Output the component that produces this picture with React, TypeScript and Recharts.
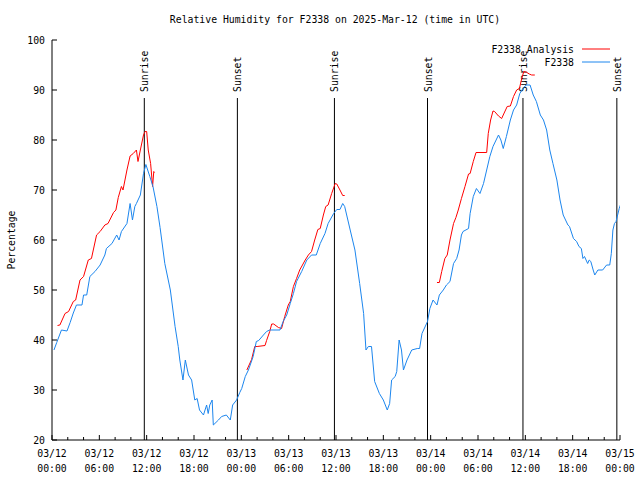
import { Line, LineChart, ReferenceLine, XAxis, YAxis } from "recharts";

// hours since 03/12 00:00 UTC
const stationHours = [
  0.25, 0.6, 1.2, 1.9, 2.3, 2.7, 3.1, 3.8, 4.0, 4.4, 4.8, 5.45, 6.1, 6.7, 6.9, 7.6, 8.2, 8.5, 8.8, 9.5,
  9.9, 10.2, 10.5, 10.7, 11.2, 11.6, 11.9, 12.4, 12.8, 13.3, 13.7, 14.3, 15, 15.6, 16, 16.2, 16.6, 16.9,
  17.3, 17.7, 18.1, 18.4, 18.7, 19.2, 19.6, 19.8, 20, 20.3, 20.45, 21.1, 21.5, 22.1, 22.6, 22.9, 23.4,
  23.8, 24.05, 24.5, 24.9, 25.5, 25.9, 26.2, 26.8, 27.2, 27.6, 28.9, 29.3, 29.75, 30.2, 30.6, 31.0,
  31.65, 32.3, 32.9, 33.5, 34, 34.6, 35, 35.7, 36.1, 36.5, 36.85, 37.1, 37.8, 38.4, 39.0, 39.5, 39.8,
  40.1, 40.5, 40.9, 41.5, 42, 42.5, 42.8, 43.05, 43.5, 43.7, 44.0, 44.3, 44.55, 45, 45.6, 46.3, 46.6,
  46.9, 47.6, 47.9, 48.3, 48.8, 49.1, 49.6, 50.0, 50.45, 50.9, 51.3, 51.6, 51.9, 52.1, 52.8, 53.0, 53.4,
  53.8, 54.25, 54.7, 55.1, 55.5, 55.9, 56.6, 56.9, 57.2, 57.6, 58.1, 58.5, 58.9, 59.3, 59.7, 60.1, 60.6,
  61, 61.4, 61.9, 62.3, 62.7, 63.1, 63.5, 64, 64.4, 64.8, 65.4, 65.6, 66.1, 66.5, 66.8, 67.1, 67.3, 67.5,
  67.9, 68.1, 68.3, 68.6, 68.8, 69.2, 69.8, 70.3, 70.7, 70.9, 71.1, 71.3, 71.5, 71.9, 72.05,
];
const stationRh = [
  38, 39.5, 42, 41.8, 43.5, 45.4, 47, 47, 49, 49, 52.7, 53.7, 55, 57, 58.3, 59.3, 61, 60, 61.7, 63.3,
  67.3, 64, 66.7, 67.3, 69, 73.3, 75.1, 72.7, 70.7, 66.7, 62.5, 55.3, 50, 42.7, 38.7, 36, 32, 36,
  33, 32, 28, 28.3, 26, 25, 27, 25.3, 27, 28, 23, 24, 24.7, 25, 24, 27, 28,
  29.5, 30.3, 32.7, 34, 36.7, 39.7, 39.9, 41, 41.7, 42, 42, 43.7, 45, 47.3, 49.3, 51.7,
  53.7, 56, 57, 57, 59.3, 61.3, 63.3, 65.3, 66.1, 66.1, 67.3, 66.7, 62, 58, 51.3, 45.3, 38,
  38.7, 38.7, 31.7, 29.3, 28, 26, 27.3, 32, 32.7, 33.7, 40, 38, 34, 36, 38, 38.3, 38.3,
  41.3, 43.7, 46.3, 48, 47, 49, 50, 51, 51.7, 55.3, 56.3, 58, 61, 61.7, 62.3, 65.3, 68.7,
  70.3, 69.3, 71.3, 74, 76.7, 78.7, 81, 80, 78.3, 80.7, 84, 86, 87, 89.3, 90.3, 91, 91,
  89, 87.7, 85, 84, 82, 78, 75.3, 72, 68, 65, 63, 62.7, 60.3, 59.7, 58.7, 58.3, 56.3, 56.7,
  55.3, 56, 55.7, 54, 53, 54, 54, 55, 55, 57.3, 62, 63.3, 63.7, 66.3, 67,
];

// analysis series, null marks a gap between runs
const analysisHours = [
  0.7, 1.0, 1.65, 2.1, 2.7, 3.0, 3.55, 4.0, 4.6, 5.0, 5.65, 6.1, 6.7, 7.1, 7.8, 8.1, 8.4, 8.8, 9.0, 9.5,
  9.9, 10.3, 10.7, 10.9, 11.2, 11.6, 11.8, 12.0, 12.2, 12.5, 12.75, 12.9, 13.0, 18,
  24.7, 25.3, 25.7, 26, 27.0, 27.2, 27.6, 27.85, 28.1, 28.7, 29.1, 29.5, 29.95, 30.2, 30.6, 31.0, 31.4,
  32.1, 32.5, 32.9, 33.3, 33.7, 34.0, 34.4, 34.7, 35.0, 35.45, 35.9, 36.1, 36.5, 36.85, 37.1, 42,
  48.8, 49.1, 49.4, 49.8, 50.1, 50.45, 50.9, 51.2, 51.5, 51.9, 52.35, 52.8, 53.0, 53.4, 53.75, 55.1,
  55.3, 55.6, 55.9, 56.1, 56.6, 57.0, 57.2, 57.7, 58.1, 58.5, 58.9, 59.25, 59.5, 59.8, 60.1, 60.5, 60.8, 61.2,
];
const analysisRh = [
  42.9, 43, 45.3, 45.7, 47.7, 48, 52, 52.7, 56, 56.3, 61, 61.7, 63, 63.3, 65.5, 66, 68.5, 70.7, 70, 74,
  76.8, 77.3, 78, 75.7, 78, 81, 81.7, 81.7, 78, 75.3, 70.7, 73.7, 73.5, null,
  34, 36.1, 38.7, 38.7, 38.9, 39.9, 41.7, 43.2, 43.2, 42.5, 42.3, 44.7, 47, 47.7, 50.7, 52.3, 54,
  56, 57, 57.7, 60, 62.1, 62.3, 65, 66.7, 67, 69.3, 71.3, 71.2, 70, 68.9, 68.9, null,
  51.5, 51.5, 53.7, 56.3, 57, 60, 63.3, 64.5, 66, 68.3, 70.7, 73.2, 73.3, 75.7, 77.5, 77.5,
  81.3, 84, 85.8, 85.7, 84.8, 84.3, 85, 86.7, 86.8, 88.7, 90, 90.3, 92, 93.7, 93.6, 93.2, 93, 93,
];

const sunHours = [11.7, 23.5, 35.8, 47.6, 59.7, 71.6];
const sunLabels = ["Sunrise", "Sunset", "Sunrise", "Sunset", "Sunrise", "Sunset"];
const sunLineTop = 88.4;

const xTicks = Array.from({ length: 37 }, (_, i) => i * 2);
const yTicks = [20, 30, 40, 50, 60, 70, 80, 90, 100];

const stationData = stationHours.map((h, i) => ({ h, rh: stationRh[i] }));
const analysisData = analysisHours.map((h, i) => ({ h, rh: analysisRh[i] }));

const FONT = "'DejaVu Sans Mono', monospace";
const FS = 9.8;
const RED = "#ff0000";
const BLUE = "#1c86ee";

function tickText(h: number) {
  const day = 12 + Math.floor(h / 24);
  const hour = h % 24;
  return [`03/${day}`, `${String(hour).padStart(2, "0")}:00`];
}

function BottomTick({ x, y, payload }: any) {
  const h = payload.value;
  const major = h % 6 === 0;
  const [d, t] = tickText(h);
  return (
    <g>
      <line x1={x} x2={x} y1={y} y2={y - (major ? 5 : 3)} stroke="#000" />
      {major && (
        <text x={x} y={y} textAnchor="middle" fontFamily={FONT} fontSize={FS} fill="#000">
          <tspan x={x} dy={17}>{d}</tspan>
          <tspan x={x} dy={15}>{t}</tspan>
        </text>
      )}
    </g>
  );
}

function TopTick({ x, y, payload }: any) {
  const major = payload.value % 6 === 0;
  return <line x1={x} x2={x} y1={y} y2={y + (major ? 5 : 3)} stroke="#000" />;
}

function LeftTick({ x, y, payload }: any) {
  return (
    <g>
      <line x1={x} x2={x + 5} y1={y} y2={y} stroke="#000" />
      <text x={x - 7} y={y + 3.5} textAnchor="end" fontFamily={FONT} fontSize={FS} fill="#000">
        {payload.value}
      </text>
    </g>
  );
}

function RightTick({ x, y }: any) {
  return <line x1={x} x2={x - 5} y1={y} y2={y} stroke="#000" />;
}

function SunLabel({ viewBox, text }: any) {
  const x = viewBox.x + 4;
  const y = viewBox.y - 6;
  return (
    <text
      x={x}
      y={y}
      transform={`rotate(-90 ${x} ${y})`}
      textAnchor="start"
      fontFamily={FONT}
      fontSize={FS}
      fill="#000"
    >
      {text}
    </text>
  );
}

export default function App() {
  return (
    <div style={{ position: "absolute", left: 0, top: 0, width: 640, height: 480, background: "#fff" }}>
      <LineChart width={640} height={480} margin={{ top: 40, right: 20, bottom: 0, left: 0 }}>
        <XAxis
          dataKey="h"
          type="number"
          domain={[0, 72]}
          ticks={xTicks}
          interval={0}
          allowDataOverflow
          tickLine={false}
          tickSize={0}
          tickMargin={0}
          height={40}
          axisLine={{ stroke: "#000" }}
          tick={<BottomTick />}
        />
        <XAxis
          xAxisId="top"
          orientation="top"
          dataKey="h"
          type="number"
          domain={[0, 72]}
          ticks={xTicks}
          interval={0}
          allowDataOverflow
          tickLine={false}
          tickSize={0}
          tickMargin={0}
          height={0}
          axisLine={{ stroke: "#000" }}
          tick={<TopTick />}
        />
        <YAxis
          type="number"
          domain={[20, 100]}
          ticks={yTicks}
          interval={0}
          allowDataOverflow
          tickLine={false}
          tickSize={0}
          tickMargin={0}
          width={52}
          axisLine={{ stroke: "#000" }}
          tick={<LeftTick />}
        />
        <YAxis
          yAxisId="right"
          orientation="right"
          type="number"
          domain={[20, 100]}
          ticks={yTicks}
          interval={0}
          allowDataOverflow
          tickLine={false}
          tickSize={0}
          tickMargin={0}
          width={0}
          axisLine={{ stroke: "#000" }}
          tick={<RightTick />}
        />
        {sunHours.map((h, i) => (
          <ReferenceLine
            key={i}
            segment={[
              { x: h, y: 20 },
              { x: h, y: sunLineTop },
            ]}
            stroke="#000"
            strokeWidth={1}
            label={<SunLabel text={sunLabels[i]} />}
          />
        ))}
        <Line
          data={analysisData}
          dataKey="rh"
          type="linear"
          stroke={RED}
          strokeWidth={1}
          dot={false}
          connectNulls={false}
          isAnimationActive={false}
        />
        <Line
          data={stationData}
          dataKey="rh"
          type="linear"
          stroke={BLUE}
          strokeWidth={1}
          dot={false}
          isAnimationActive={false}
        />
      </LineChart>
      <svg
        width={640}
        height={480}
        style={{ position: "absolute", left: 0, top: 0, pointerEvents: "none" }}
      >
        <text x={335} y={23} textAnchor="middle" fontFamily={FONT} fontSize={FS} fill="#000">
          Relative Humidity for F2338 on 2025-Mar-12 (time in UTC)
        </text>
        <text
          x={15}
          y={240}
          transform="rotate(-90 15 240)"
          textAnchor="middle"
          fontFamily={FONT}
          fontSize={FS}
          fill="#000"
        >
          Percentage
        </text>
        <text x={574} y={53} textAnchor="end" fontFamily={FONT} fontSize={FS} fill="#000">
          F2338 Analysis
        </text>
        <line x1={582} x2={610} y1={49} y2={49} stroke={RED} />
        <text x={574} y={66} textAnchor="end" fontFamily={FONT} fontSize={FS} fill="#000">
          F2338
        </text>
        <line x1={582} x2={610} y1={62} y2={62} stroke={BLUE} />
      </svg>
    </div>
  );
}
